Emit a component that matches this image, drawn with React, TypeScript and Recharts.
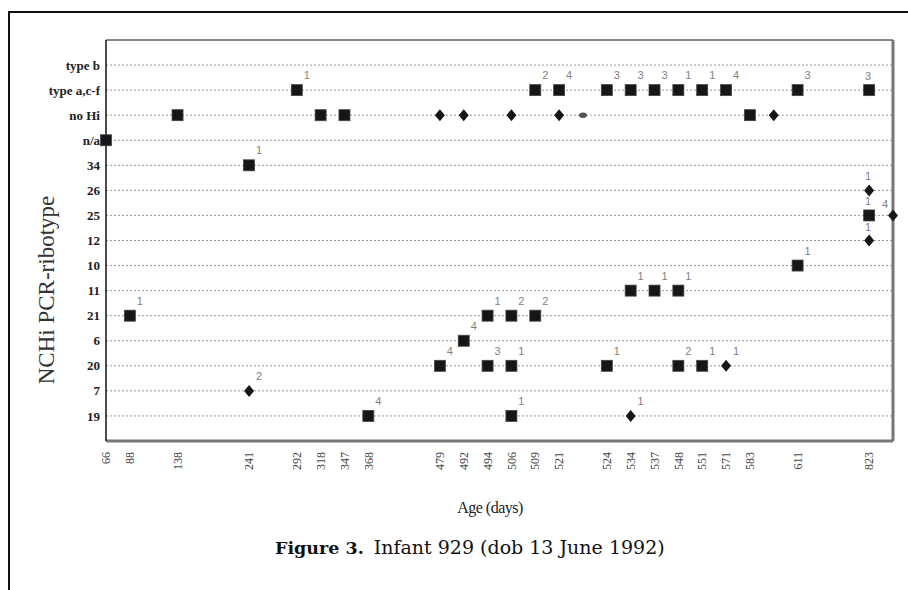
import React from 'react';
import { ScatterChart, Scatter, XAxis, YAxis, CartesianGrid, ReferenceLine } from 'recharts';

// age in days, one slot per column of the original category axis ('' = unlabelled slot)
const ageLabels = [
  '66', '88', '', '138', '', '', '241', '', '292', '318', '347', '368', '', '',
  '479', '492', '494', '506', '509', '521', '', '524', '534', '537', '548', '551',
  '571', '583', '', '611', '', '', '823', '',
];

// bottom to top
const ribotypes = [
  '19', '7', '20', '6', '21', '11', '10', '12', '25', '26', '34',
  'n/a', 'no Hi', 'type a,c-f', 'type b',
];

// [age slot, ribotype, number of isolates]
const squareIsolates: [number, string, string][] = [
  [8, 'type a,c-f', '1'], [18, 'type a,c-f', '2'], [19, 'type a,c-f', '4'],
  [21, 'type a,c-f', '3'], [22, 'type a,c-f', '3'], [23, 'type a,c-f', '3'],
  [24, 'type a,c-f', '1'], [25, 'type a,c-f', '1'], [26, 'type a,c-f', '4'],
  [29, 'type a,c-f', '3'], [32, 'type a,c-f', '3'],
  [3, 'no Hi', ''], [9, 'no Hi', ''], [10, 'no Hi', ''], [27, 'no Hi', ''],
  [0, 'n/a', ''],
  [6, '34', '1'],
  [32, '25', '1'],
  [29, '10', '1'],
  [22, '11', '1'], [23, '11', '1'], [24, '11', '1'],
  [1, '21', '1'], [16, '21', '1'], [17, '21', '2'], [18, '21', '2'],
  [15, '6', '4'],
  [14, '20', '4'], [16, '20', '3'], [17, '20', '1'], [21, '20', '1'], [24, '20', '2'], [25, '20', '1'],
  [11, '19', '4'], [17, '19', '1'],
];

const diamondIsolates: [number, string, string][] = [
  [14, 'no Hi', ''], [15, 'no Hi', ''], [17, 'no Hi', ''], [19, 'no Hi', ''], [28, 'no Hi', ''],
  [32, '26', '1'], [33, '25', '4'], [32, '12', '1'],
  [26, '20', '1'],
  [6, '7', '2'],
  [22, '19', '1'],
];

const roundIsolates: [number, string, string][] = [
  [20, 'no Hi', ''],
];

const toPoints = (rows: [number, string, string][]) =>
  rows.map(([x, r, n]) => ({ x, y: ribotypes.indexOf(r), n }));

const ageTicks = ageLabels.map((l, i) => (l ? i : -1)).filter((i) => i >= 0);
const rowTicks = ribotypes.map((_, i) => i);

function countLabel(cx: number, cy: number, slot: number, n: string) {
  if (!n) return null;
  let dx = 10;
  let dy = -11;
  if (slot === 32) { dx = -1; dy = -10; }
  if (slot === 33) { dx = -8; dy = -7; }
  return (
    <text x={cx + dx} y={cy + dy} textAnchor="middle" fontSize={11}
      fill="#808080" fontFamily="Liberation Sans">{n}</text>
  );
}

const SquareMark = (p: any) => (
  <g>
    <rect x={p.cx - 5.5} y={p.cy - 5.5} width={11} height={11} fill="#161616" stroke="#444" strokeWidth={0.8} />
    {countLabel(p.cx, p.cy, p.payload.x, p.payload.n)}
  </g>
);

const DiamondMark = (p: any) => (
  <g>
    <polygon
      points={`${p.cx},${p.cy - 6} ${p.cx + 5},${p.cy} ${p.cx},${p.cy + 6} ${p.cx - 5},${p.cy}`}
      fill="#161616"
    />
    {countLabel(p.cx, p.cy, p.payload.x, p.payload.n)}
  </g>
);

const RoundMark = (p: any) => <ellipse cx={p.cx} cy={p.cy} rx={4} ry={2.8} fill="#555" />;

const AgeTick = ({ x, y, payload }: any) => {
  const ty = y + 11;
  return (
    <text x={x} y={ty} transform={`rotate(-90, ${x}, ${ty})`} textAnchor="end" dy="0.35em"
      fontSize={12} fill="#444" fontFamily="Liberation Serif">
      {ageLabels[payload.value]}
    </text>
  );
};

export default function App() {
  return (
    <div style={{ position: 'absolute', left: 0, top: 0, width: 908, height: 590, background: '#fff' }}>
      <div style={{
        position: 'absolute', left: 8, top: 11, width: 900, height: 579,
        borderTop: '2px solid #111', borderLeft: '2px solid #111', boxSizing: 'border-box',
      }} />
      <div style={{ position: 'absolute', left: 0, top: 0 }}>
        <ScatterChart width={908} height={590} margin={{ top: 40, right: 15, bottom: 109, left: 0 }}>
          <CartesianGrid vertical={false} stroke="#999" strokeDasharray="2 2" />
          <XAxis dataKey="x" type="number" domain={[0, 33]} ticks={ageTicks} interval={0}
            tick={<AgeTick />} tickLine={false} tickSize={0} tickMargin={0} height={40}
            axisLine={{ stroke: '#777', strokeWidth: 3 }} />
          <YAxis dataKey="y" type="number" domain={[-1, 15]} ticks={rowTicks} interval={0}
            width={106} tickLine={false} tickSize={0} tickMargin={6}
            axisLine={{ stroke: '#111', strokeWidth: 1.5 }}
            tickFormatter={(v: number) => ribotypes[v]}
            tick={{ fill: '#222', fontSize: 13, fontWeight: 'bold', fontFamily: 'Liberation Serif' }} />
          <ReferenceLine y={15} stroke="#888" strokeWidth={2} />
          <ReferenceLine x={33} stroke="#777" strokeWidth={3} />
          <Scatter data={toPoints(squareIsolates)} shape={SquareMark} isAnimationActive={false} />
          <Scatter data={toPoints(diamondIsolates)} shape={DiamondMark} isAnimationActive={false} />
          <Scatter data={toPoints(roundIsolates)} shape={RoundMark} isAnimationActive={false} />
        </ScatterChart>
      </div>
      <div style={{
        position: 'absolute', left: 47, top: 290, transform: 'translate(-50%, -50%) rotate(-90deg)',
        whiteSpace: 'nowrap', fontFamily: "'Liberation Serif', serif", fontSize: 23, color: '#333',
      }}>NCHi PCR-ribotype</div>
      <div style={{
        position: 'absolute', left: 490, top: 508, transform: 'translate(-50%, -50%)',
        whiteSpace: 'nowrap', fontFamily: "'Liberation Serif', serif", fontSize: 16, color: '#222',
        letterSpacing: -0.5,
      }}>Age (days)</div>
      <div style={{
        position: 'absolute', left: 275, top: 536, whiteSpace: 'nowrap',
        fontFamily: "'DejaVu Serif', serif", color: '#111', lineHeight: '22px',
      }}>
        <b style={{ fontSize: 17.5 }}>Figure 3.</b>
        <span style={{ fontSize: 19, marginLeft: 10 }}>Infant 929 (dob 13 June 1992)</span>
      </div>
    </div>
  );
}
